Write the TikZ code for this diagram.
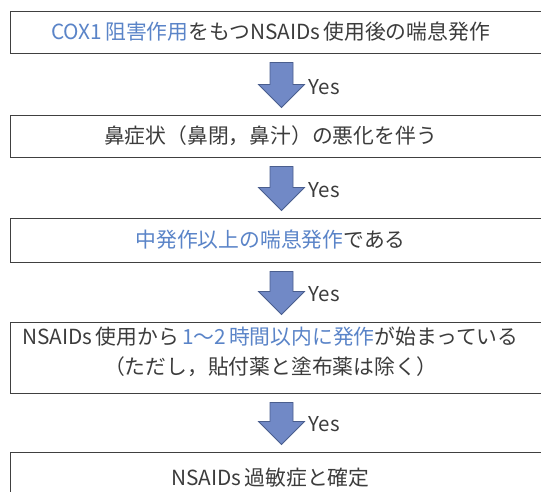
\documentclass[tikz,border=0pt]{standalone}
\usepackage{fontspec}
\newfontfamily\jp{Noto Sans CJK JP}
\usetikzlibrary{calc}
\definecolor{txt}{HTML}{3C3C3C}
\definecolor{hl}{HTML}{5A84C8}
\definecolor{afill}{HTML}{7189C6}
\definecolor{aline}{HTML}{4A5E8E}
\definecolor{bline}{HTML}{404040}
\newcommand\ctr[1]{\makebox[520pt][c]{#1}}
\newcommand\gap{\hspace{0.15em}}
\tikzset{
  stepbox/.style={draw=bline, line width=1pt, anchor=west, inner xsep=0pt, inner ysep=0pt,
    text width=560pt, align=left, font=\jp\fontsize{20.8pt}{30pt}\selectfont, text=txt},
  blockarr/.style={fill=afill, draw=aline, line width=0.8pt, line join=miter},
  yeslabel/.style={anchor=west, inner sep=0pt, font=\jp\fontsize{20.5pt}{24pt}\selectfont, text=txt}
}
\newcommand\blockarrow[2]{%
  \coordinate (T) at ($(#1.south -| ax)+(0,9)$);
  \coordinate (S) at ($(#2.north -| ax)+(0,-7)$);
  \draw[blockarr] ($(T)+(-11.5,0)$) -- ($(T)+(11.5,0)$) -- ($(S)+(11.5,-23)$) -- ($(S)+(23,-23)$)
    -- (S) -- ($(S)+(-23,-23)$) -- ($(S)+(-11.5,-23)$) -- cycle;
  \node[yeslabel] at ($(S)+(27,-20)$) {Yes};
}
\begin{document}
\begin{tikzpicture}[x=1pt,y=-1pt]
  \useasboundingbox (0,0) rectangle (541,491);
  \clip (0,0) rectangle (541,491);
  \fill[white] (0,0) rectangle (541,491);
  \coordinate (ax) at (281.5,0);
  \node[stepbox, minimum height=42pt] (b1) at (10,32)
    {\ctr{{\color{hl}COX1\gap 阻害作用}をもつNSAIDs\gap 使用後の喘息発作}};
  \node[stepbox, minimum height=42pt] (b2) at (10,136)
    {\ctr{鼻症状（鼻閉，鼻汁）の悪化を伴う}};
  \node[stepbox, minimum height=44pt] (b3) at (10,240)
    {\ctr{{\color{hl}中発作以上の喘息発作}である}};
  \node[stepbox, minimum height=71pt] (b4) at (10,357.5)
    {\ctr{NSAIDs\gap 使用から\gap{\color{hl}1〜2\gap 時間以内に発作}が始まっている}\\
     \ctr{（ただし，貼付薬と塗布薬は除く）}\par\vspace*{12pt}};
  \node[stepbox, minimum height=52pt] (b5) at (10,478)
    {\ctr{NSAIDs\gap 過敏症と確定}};
  \blockarrow{b1}{b2}
  \blockarrow{b2}{b3}
  \blockarrow{b3}{b4}
  \blockarrow{b4}{b5}
\end{tikzpicture}
\end{document}
